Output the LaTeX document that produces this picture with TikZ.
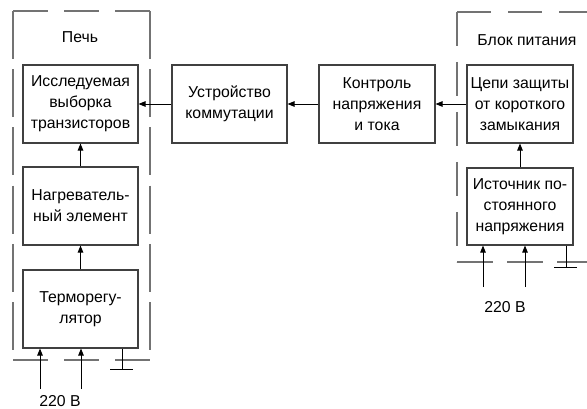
\documentclass[tikz,border=0pt]{standalone}
\usepackage{fontspec}
\setmainfont{Liberation Sans}
\usetikzlibrary{arrows.meta}
\begin{document}
\begin{tikzpicture}[x=1pt,y=-1pt,
  txt/.style={font=\fontsize{15.8}{21}\selectfont},
  blk/.style={txt,draw=black!75,line width=1.1pt,minimum width=115pt,minimum height=78pt,align=center,inner sep=0pt},
  arr/.style={line width=0.9pt,-{Triangle[length=7pt,width=5.5pt]}},
  wire/.style={line width=0.9pt},
  dsh/.style={draw=black!55,line width=1.1pt}]
\useasboundingbox (0,0) rectangle (587,409);
% dashed enclosures
\draw[dsh,dash pattern=on 35pt off 16pt] (13,11) -- (150,11);
\draw[dsh,dash pattern=on 35pt off 16pt] (13,360) -- (150,360);
\draw[dsh,dash pattern=on 48pt off 10.2pt] (13,11) -- (13,360);
\draw[dsh,dash pattern=on 48pt off 10.2pt] (150,11) -- (150,360);
\draw[dsh,dash pattern=on 34pt off 17pt] (457,12) -- (587,12);
\draw[dsh,dash pattern=on 36pt off 14pt] (457,262) -- (587,262);
\draw[dsh,dash pattern=on 34pt off 16pt] (457,12) -- (457,262);
% labels
\node[txt] (pech) at (80,37) {Печь};
\node[txt] (blok) at (527,40) {Блок питания};
% boxes
\node[blk] (A) at (80.5,104) {Исследуемая\\выборка\\транзисторов};
\node[blk] (B) at (80.5,206) {Нагреватель-\\ный элемент};
\node[blk] (C) at (80.5,309) {Терморегу-\\лятор};
\node[blk] (D) at (229.5,104) {Устройство\\коммутации};
\node[blk,minimum width=116pt] (E) at (377,104) {Контроль\\напряжения\\и тока};
\node[blk,minimum width=106pt] (F) at (520,104) {Цепи защиты\\от короткого\\замыкания};
\node[blk,minimum width=106pt,minimum height=77pt] (G) at (520,206.5) {Источник по-\\стоянного\\напряжения};
% main arrows
\draw[arr] (D) -- (A);
\draw[arr] (E) -- (D);
\draw[arr] (F) -- (E);
\draw[arr] (B) -- (A);
\draw[arr] (C) -- (B);
\draw[arr] (G) -- (F);
% mains inputs left
\coordinate (i1) at (40,389);
\coordinate (i2) at (81,389);
\draw[arr] (i1) -- (i1 |- C.south);
\draw[arr] (i2) -- (i2 |- C.south);
\node[txt,inner sep=0pt] (v1) at (60,401) {220 В};
% ground left
\coordinate (g1) at (122,369);
\draw[wire] (g1 |- C.south) -- (g1);
\draw[wire] ([xshift=-12pt]g1) -- ([xshift=11pt]g1);
% mains inputs right
\coordinate (i3) at (483,287);
\coordinate (i4) at (525,287);
\draw[arr] (i3) -- (i3 |- G.south);
\draw[arr] (i4) -- (i4 |- G.south);
\node[txt,inner sep=0pt] (v2) at (505,307) {220 В};
% ground right
\coordinate (g2) at (566,267);
\draw[wire] (g2 |- G.south) -- (g2);
\draw[wire] ([xshift=-12pt]g2) -- ([xshift=11pt]g2);
\end{tikzpicture}
\end{document}
